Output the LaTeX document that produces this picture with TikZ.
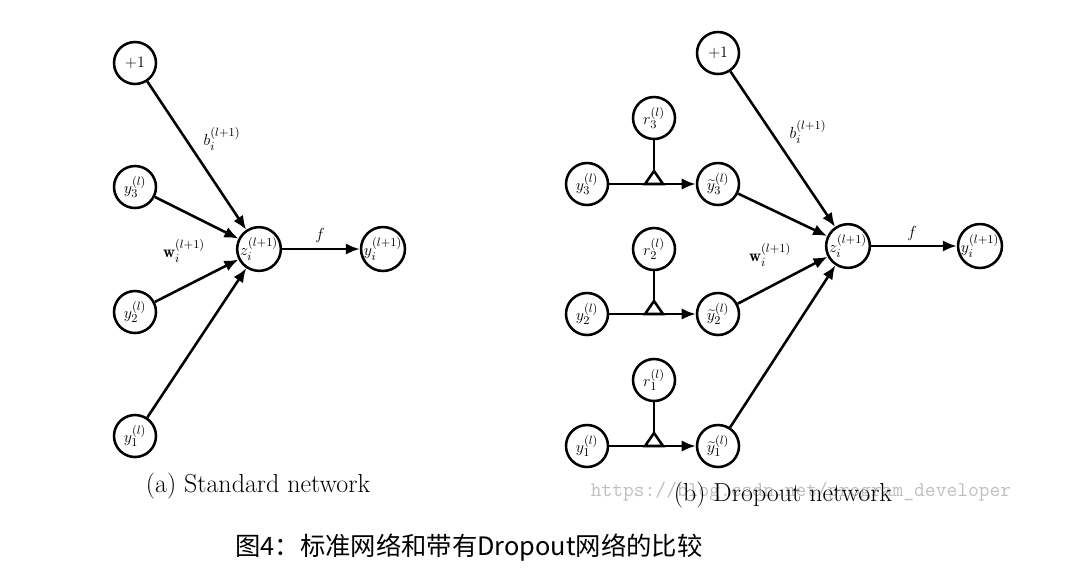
\documentclass[tikz,border=0pt]{standalone}
\usepackage{fontspec}
\newfontfamily\cjk{Noto Sans CJK SC}
\usetikzlibrary{arrows.meta}

\tikzset{
  neuron/.style={circle, draw, line width=1.9pt, minimum size=31.5pt, inner sep=0pt, font=\fontsize{12.5}{14}\selectfont},
  conn/.style={-{Latex[length=10.5pt,width=8.5pt]}, line width=1.9pt},
  plain/.style={line width=1.9pt},
  elabel/.style={font=\fontsize{12.5}{14}\selectfont},
  subcap/.style={font=\fontsize{19.5}{23}\selectfont},
}

\begin{document}
\begin{tikzpicture}[x=0.75pt,y=-0.75pt]
  \useasboundingbox (0,0) rectangle (1066,576);

  % (a) standard network
  \node[neuron] (aone) at (135,63) {$+1$};
  \node[neuron] (ay3) at (135,187) {$y_3^{(l)}$};
  \node[neuron] (ay2) at (135,312) {$y_2^{(l)}$};
  \node[neuron] (ay1) at (135,436) {$y_1^{(l)}$};
  \node[neuron] (az) at (259,249) {$z_i^{(l+1)}$};
  \node[neuron] (aout) at (383,249) {$y_i^{(l+1)}$};
  \draw[conn] (aone) -- (az);
  \draw[conn] (ay3) -- (az);
  \draw[conn] (ay2) -- (az);
  \draw[conn] (ay1) -- (az);
  \draw[conn] (az) -- (aout);
  \node[elabel] (ab) at (222,139) {$b_i^{(l+1)}$};
  \node[elabel] (aw) at (184,251) {$\mathbf{w}_i^{(l+1)}$};
  \node[elabel] (af) at (320,235) {$f$};
  \node[subcap] (acap) at (258,486) {(a) Standard network};

  % (b) dropout network
  \node[neuron] (bone) at (718,53) {$+1$};
  \node[neuron] (br3) at (654,118) {$r_3^{(l)}$};
  \node[neuron] (by3) at (587,184) {$y_3^{(l)}$};
  \node[neuron] (bt3) at (718,184) {$\widetilde{y}_3^{(l)}$};
  \node[neuron] (br2) at (654,249) {$r_2^{(l)}$};
  \node[neuron] (by2) at (587,314) {$y_2^{(l)}$};
  \node[neuron] (bt2) at (718,314) {$\widetilde{y}_2^{(l)}$};
  \node[neuron] (br1) at (654,380) {$r_1^{(l)}$};
  \node[neuron] (by1) at (587,446) {$y_1^{(l)}$};
  \node[neuron] (bt1) at (718,446) {$\widetilde{y}_1^{(l)}$};
  \node[neuron] (bz) at (848,246) {$z_i^{(l+1)}$};
  \node[neuron] (bout) at (980,246) {$y_i^{(l+1)}$};

  % masks
  \coordinate (g3) at (654,171);
  \coordinate (g2) at (654,301);
  \coordinate (g1) at (654,433);
  \draw[conn] (by3) -- (bt3);
  \draw[conn] (by2) -- (bt2);
  \draw[conn] (by1) -- (bt1);
  \draw[plain] (br3) -- (g3);
  \draw[plain] (br2) -- (g2);
  \draw[plain] (br1) -- (g1);
  \draw[plain, line join=miter] (g3) -- ++(-9,13) -- ++(18,0) -- cycle;
  \draw[plain, line join=miter] (g2) -- ++(-9,13) -- ++(18,0) -- cycle;
  \draw[plain, line join=miter] (g1) -- ++(-9,13) -- ++(18,0) -- cycle;

  \draw[conn] (bone) -- (bz);
  \draw[conn] (bt3) -- (bz);
  \draw[conn] (bt2) -- (bz);
  \draw[conn] (bt1) -- (bz);
  \draw[conn] (bz) -- (bout);
  \node[elabel] (bb) at (808,132) {$b_i^{(l+1)}$};
  \node[elabel] (bw) at (770,255) {$\mathbf{w}_i^{(l+1)}$};
  \node[elabel] (bf) at (912,233) {$f$};

  \node[font=\ttfamily\fontsize{15.7}{18}\selectfont, text=black!25] (mark) at (801,492) {https://blog.csdn.net/program\_developer};
  \node[subcap] (bcap) at (783,495) {(b) Dropout network};

  \node[font=\cjk\fontsize{19}{23}\selectfont] (fig) at (469,548) {图4：标准网络和带有Dropout网络的比较};
\end{tikzpicture}
\end{document}
